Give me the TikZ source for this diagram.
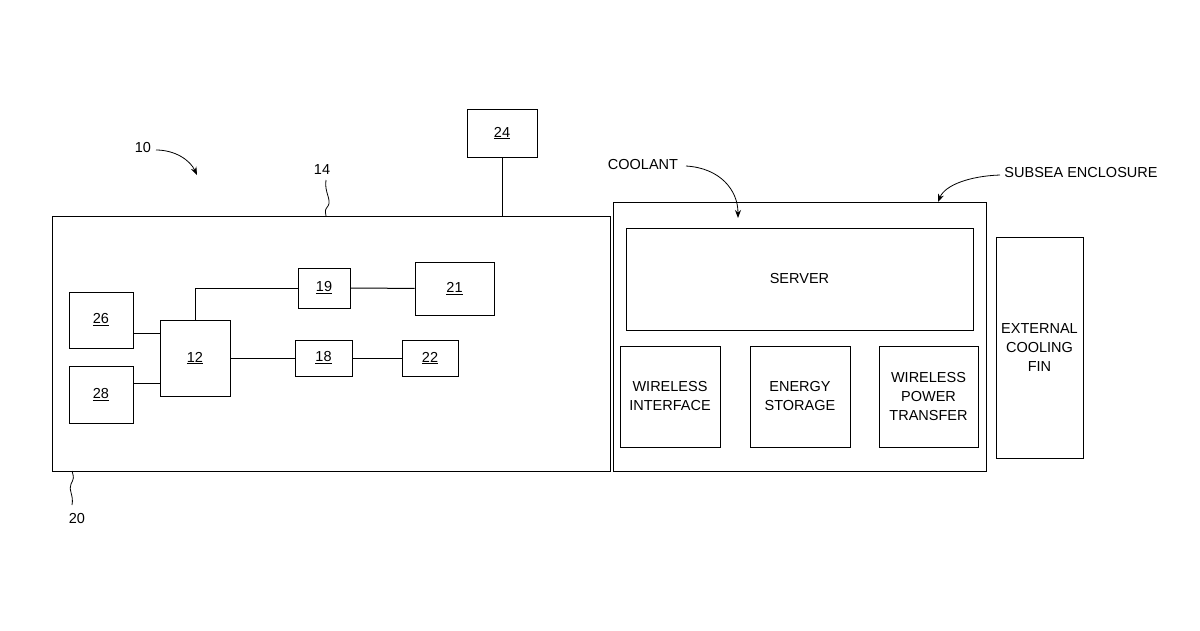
\documentclass[tikz,border=0pt]{standalone}
\usepackage{fontspec}
\setmainfont{Liberation Sans}
\usetikzlibrary{arrows.meta}
\begin{document}
\begin{tikzpicture}[x=1pt,y=-1pt,line width=1pt,
 box/.style={draw,rectangle,inner sep=0pt,font=\fontsize{14.5}{19}\selectfont,align=center},
 lbl/.style={font=\fontsize{14.5}{19}\selectfont},
 arr/.style={-{Stealth[length=8pt,width=6pt]},line width=0.8pt}]
\useasboundingbox (0,0) rectangle (1200,630);
\def\bx#1#2#3#4#5#6{\node[box,minimum width=#4-#2,minimum height=#5-#3] (#1) at ({(#2+#4)/2},{(#3+#5)/2}) {#6};}
\bx{main}{52}{216}{610}{471}{}
\bx{b24}{467}{109}{537}{157}{\underline{24}}
\bx{b26}{69}{292}{133}{348}{\underline{26}}
\bx{b28}{69}{366}{133}{423}{\underline{28}}
\bx{b12}{160}{320}{230}{396}{\underline{12}}
\bx{b19}{298}{268}{350}{308}{\underline{19}}
\bx{b21}{415}{262}{494}{315}{\underline{21}}
\bx{b18}{295}{340}{352}{376}{\underline{18}}
\bx{b22}{402}{340}{458}{376}{\underline{22}}
\bx{enc}{613}{202}{986}{471}{}
\bx{srv}{626}{228}{973}{330}{SERVER}
\bx{wi}{620}{346}{720}{447}{WIRELESS\\INTERFACE}
\bx{es}{750}{346}{850}{447}{ENERGY\\STORAGE}
\bx{wpt}{879}{346}{978}{447}{WIRELESS\\POWER\\TRANSFER}
\bx{fin}{996}{237}{1083}{458}{EXTERNAL\\COOLING\\FIN}
\draw (b24.south) -- (b24.south|-main.north);
\draw (b26.east|-0,333) -- (b12.west|-0,333);
\draw (b28.east|-0,383) -- (b12.west|-0,383);
\draw (195,320) |- (b19.west);
\draw (b19) -- (b21);
\draw (b12.east|-0,358) -- (b18.west|-0,358);
\draw (b18) -- (b22);
\node[lbl] (l10) at (143,148) {10};
\node[lbl] (l14) at (322,170) {14};
\node[lbl] (l20) at (77,518) {20};
\node[lbl] (lc) at (643,165) {COOLANT};
\node[lbl] (ls) at (1081,173) {SUBSEA ENCLOSURE};
\coordinate (t14) at (326,216);
\coordinate (t20) at (72,471);
\draw[arr] (156,150) .. controls (175,150) and (190,160) .. (197,175);
\draw[line width=0.8pt] (326,180) .. controls (324,192) and (332,200) .. (328,206) .. controls (325,210) .. (t14);
\draw[line width=0.8pt] (72,505) .. controls (74,495) and (68,490) .. (71,484) .. controls (74,478) .. (t20);
\draw[arr] (686,166) .. controls (720,168) and (738,190) .. (738,218);
\draw[arr] (1000,175) .. controls (970,176) and (945,185) .. (938,202);
\end{tikzpicture}
\end{document}
